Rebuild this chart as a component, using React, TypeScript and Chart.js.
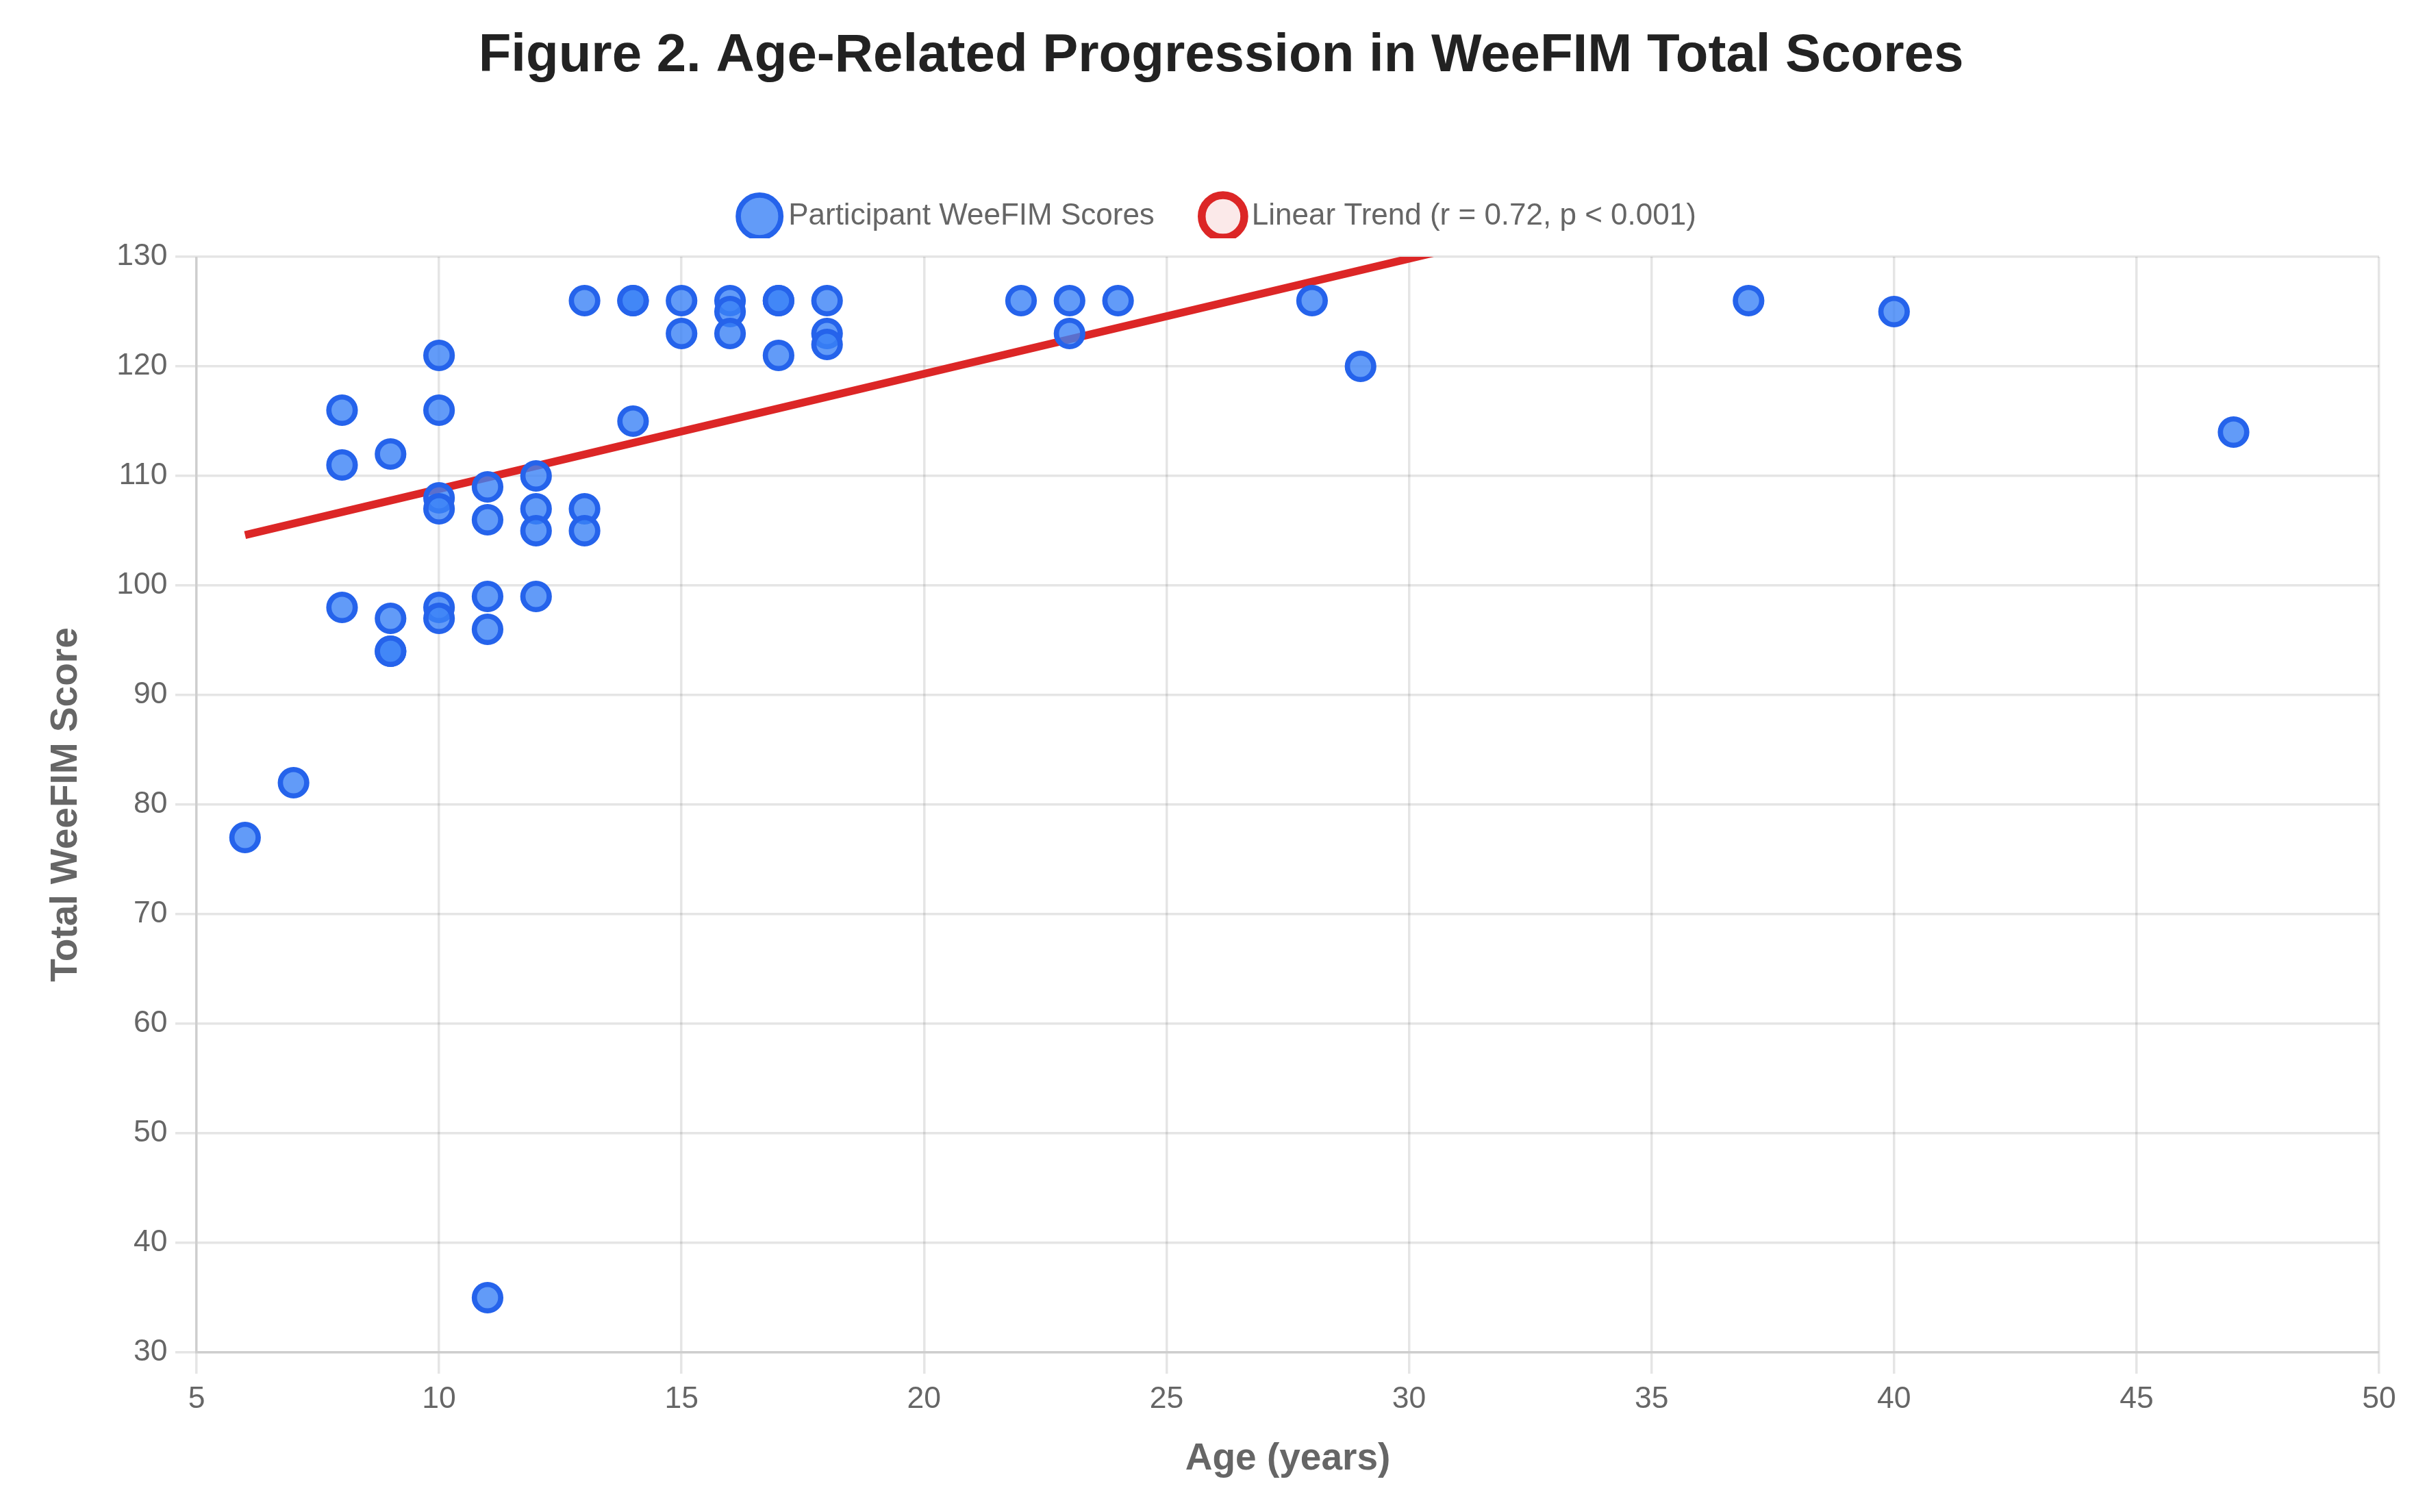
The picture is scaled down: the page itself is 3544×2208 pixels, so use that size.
import React, { useEffect, useRef } from "react";
import { Chart, registerables } from "chart.js";

Chart.register(...registerables);

// Participant data (age in years, total WeeFIM score)
const ages = [6, 7, 8, 8, 8, 9, 9, 9, 9, 10, 10, 10, 10, 10, 10, 11, 11, 11, 11, 11, 12, 12, 12, 12, 13, 13, 13, 14, 14, 14, 15, 15, 16, 16, 16, 17, 17, 17, 18, 18, 18, 22, 23, 23, 24, 28, 29, 37, 40, 47];
const scores = [77, 82, 116, 111, 98, 112, 97, 94, 94, 121, 116, 108, 107, 98, 97, 109, 106, 99, 96, 35, 110, 107, 105, 99, 126, 107, 105, 126, 126, 115, 126, 123, 126, 125, 123, 126, 126, 121, 126, 123, 122, 126, 126, 123, 126, 126, 120, 126, 125, 114];

// Linear trend endpoints
const trendAges = [6, 47];
const trendScores = [104.6, 147.7];

const titleText = "Figure 2. Age-Related Progression in WeeFIM Total Scores";
const scatterLabel = "Participant WeeFIM Scores";
const trendLabel = "Linear Trend (r = 0.72, p < 0.001)";
const xTitle = "Age (years)";
const yTitle = "Total WeeFIM Score";

const W = 3544;
const H = 2208;
const FONT = "'Liberation Sans', Arial, Helvetica, sans-serif";

export default function App() {
  const ref = useRef<HTMLCanvasElement | null>(null);

  useEffect(() => {
    if (!ref.current) return;
    const chart = new Chart(ref.current, {
      type: "scatter",
      data: {
        datasets: [
          {
            label: scatterLabel,
            data: ages.map((a, i) => ({ x: a, y: scores[i] })),
            backgroundColor: "rgba(59, 130, 246, 0.8)",
            borderColor: "#2563eb",
            borderWidth: 7.7,
            pointRadius: 19.25,
            pointHoverRadius: 19.25,
          },
          {
            type: "line",
            label: trendLabel,
            data: trendAges.map((a, i) => ({ x: a, y: trendScores[i] })),
            backgroundColor: "rgba(220, 38, 38, 0.1)",
            borderColor: "#dc2626",
            borderWidth: 11.5,
            pointRadius: 0,
            fill: false,
            tension: 0,
          } as any,
        ],
      },
      options: {
        responsive: false,
        devicePixelRatio: 1,
        animation: false,
        layout: { padding: { left: 22, right: 0, top: 0, bottom: 0 } },
        plugins: {
          tooltip: { enabled: false },
          title: {
            display: true,
            text: titleText,
            color: "#222",
            font: { family: FONT, size: 78, weight: "bold" },
            padding: { top: 35, bottom: 85 },
          },
          legend: {
            display: true,
            position: "top",
            labels: {
              usePointStyle: true,
              pointStyle: "circle",
              color: "#666",
              font: { family: FONT, size: 44 },
              padding: 80,
            },
          },
        },
        scales: {
          x: {
            type: "linear",
            min: 5,
            max: 50,
            ticks: { stepSize: 5, color: "#666", font: { family: FONT, size: 44.5 }, padding: 11.5 },
            grid: { color: "rgba(0,0,0,0.1)", lineWidth: 3.5, tickLength: 31 },
            border: { color: "rgba(0,0,0,0.1)", width: 3.5 },
            title: {
              display: true,
              text: xTitle,
              color: "#666",
              font: { family: FONT, size: 55, weight: "bold" },
              padding: { top: 10, bottom: 44 },
            },
            afterFit: (s: any) => {
              s.paddingRight = 70;
              s.height = 233;
            },
          },
          // empty spacer band between the legend and the plot area
          xTop: {
            type: "linear",
            position: "top",
            display: true,
            ticks: { display: false },
            grid: { display: false, drawTicks: false },
            border: { display: false },
            title: { display: false },
            afterFit: (s: any) => {
              s.height = 27;
            },
          },
          y: {
            type: "linear",
            min: 30,
            max: 130,
            ticks: { stepSize: 10, color: "#666", font: { family: FONT, size: 44.5 }, padding: 11.5 },
            grid: { color: "rgba(0,0,0,0.1)", lineWidth: 3.5, tickLength: 31 },
            border: { color: "rgba(0,0,0,0.1)", width: 3.5 },
            title: {
              display: true,
              text: yTitle,
              color: "#666",
              font: { family: FONT, size: 55, weight: "bold" },
              padding: { top: 42, bottom: 10 },
            },
            afterFit: (s: any) => {
              s.paddingTop = 375;
              s.width = 265;
            },
          },
        },
      } as any,
    });
    return () => chart.destroy();
  }, []);

  return (
    <div style={{ position: "fixed", left: 0, top: 0, width: W, height: H, background: "#fff" }}>
      <canvas ref={ref} width={W} height={H} style={{ width: W, height: H, display: "block" }} />
    </div>
  );
}
